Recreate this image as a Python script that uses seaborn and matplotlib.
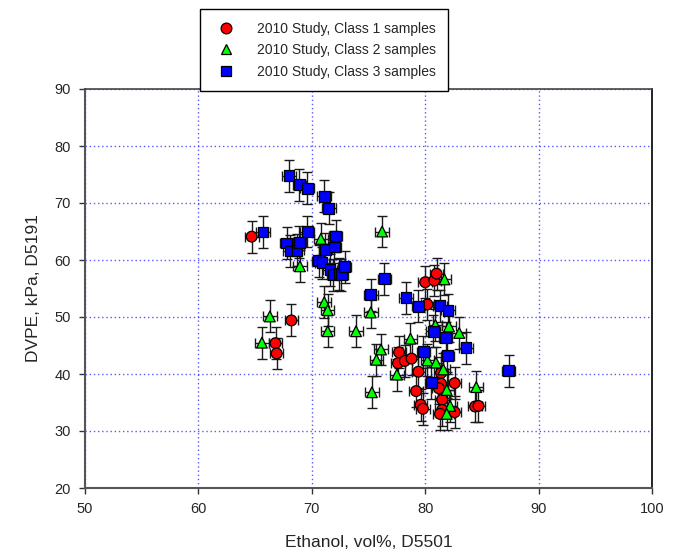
import pandas as pd
import matplotlib
matplotlib.use('Agg')
import matplotlib.pyplot as plt
import seaborn as sns

# Class 1 samples (red circles)
class1_eth = [64.7, 68.2, 66.8, 66.9, 80.0, 80.8, 81.0, 80.2, 77.7, 77.6, 78.2, 78.8,
              79.4, 81.4, 82.6, 79.2, 79.6, 79.8, 81.5, 81.5, 82.6, 81.3, 84.4, 84.7,
              81.2, 81.4]
class1_dvpe = [64.1, 49.4, 45.4, 43.6, 56.1, 56.4, 57.6, 52.2, 43.8, 41.9, 42.3, 42.7,
               40.4, 38.3, 38.4, 37.0, 34.6, 33.9, 35.5, 33.7, 33.3, 33.0, 34.3, 34.4,
               37.5, 40.2]

# Class 2 samples (green triangles)
class2_eth = [65.6, 66.3, 68.95, 70.8, 71.1, 71.4, 71.4, 73.9, 76.2, 75.2, 81.7, 80.9,
              82.1, 83.0, 78.7, 76.1, 75.7, 75.3, 77.5, 80.2, 80.95, 81.6, 81.9, 84.5,
              82.2, 81.9]
class2_dvpe = [45.5, 50.1, 58.9, 63.7, 52.6, 51.2, 47.5, 47.5, 65.0, 50.8, 56.6, 48.6,
               48.35, 47.2, 46.2, 44.3, 42.5, 36.8, 39.9, 42.4, 42.0, 40.8, 37.2, 37.7,
               34.4, 33.0]

# Class 3 samples (blue squares)
class3_eth = [65.7, 68.0, 68.9, 69.6, 67.8, 68.1, 68.7, 68.9, 69.6, 71.1, 71.5, 70.6,
              70.9, 71.2, 72.0, 72.1, 71.6, 71.9, 72.4, 72.6, 72.9, 76.4, 75.2, 78.3,
              79.4, 81.3, 82.0, 80.7, 81.8, 83.6, 79.85, 81.95, 80.55, 87.35]
class3_dvpe = [64.9, 74.8, 73.2, 72.6, 63.0, 61.6, 61.7, 63.1, 65.0, 71.2, 69.1, 59.9,
               59.5, 61.9, 62.3, 64.2, 58.3, 57.4, 57.6, 57.4, 58.8, 56.7, 53.9, 53.4,
               51.9, 52.0, 51.2, 47.5, 46.4, 44.6, 43.9, 43.2, 38.5, 40.6]

labels = ['2010 Study, Class 1 samples', '2010 Study, Class 2 samples',
          '2010 Study, Class 3 samples']

# error bar half-widths
eth_err = 0.6
dvpe_err = 2.8

frames = []
for lab, xs, ys in zip(labels, [class1_eth, class2_eth, class3_eth],
                       [class1_dvpe, class2_dvpe, class3_dvpe]):
    frames.append(pd.DataFrame({'Ethanol': xs, 'DVPE': ys, 'Sample': lab}))
data = pd.concat(frames, ignore_index=True)

sns.set_style('white')
plt.rcParams['font.family'] = ['Liberation Sans', 'DejaVu Sans']

fig = plt.figure(figsize=(6.76, 5.53), dpi=100)
ax = fig.add_axes([85 / 676, 1 - 488 / 553, (652 - 85) / 676, (488 - 89) / 553])

# error bars under the markers
ax.errorbar(data['Ethanol'], data['DVPE'], xerr=eth_err, yerr=dvpe_err, fmt='none',
            ecolor='#1a1a1a', elinewidth=1.0, capsize=3.5, capthick=1.0, zorder=2)

palette = {labels[0]: '#ff0000', labels[1]: '#00ff00', labels[2]: '#0000ff'}
markers = {labels[0]: 'o', labels[1]: '^', labels[2]: 's'}
sns.scatterplot(data=data, x='Ethanol', y='DVPE', hue='Sample', style='Sample',
                palette=palette, markers=markers, s=60, edgecolor='black',
                linewidth=0.9, ax=ax, zorder=3)

ax.set_xlim(50, 100)
ax.set_ylim(20, 90)
ax.set_xticks(range(50, 101, 10))
ax.set_yticks(range(20, 91, 10))
ax.grid(True, color='#2222ff', linestyle=(0, (1, 2)), linewidth=1.0, alpha=0.75)
ax.set_axisbelow(True)

ax.tick_params(axis='both', direction='out', length=4, width=1, color='#333333',
               labelsize=10.5, pad=6, bottom=True, left=True)
for side in ['left', 'bottom']:
    ax.spines[side].set_color('#555555')
    ax.spines[side].set_linewidth(1.5)
ax.spines['top'].set_color('#444444')
ax.spines['top'].set_linewidth(1.2)
ax.spines['right'].set_color('black')
ax.spines['right'].set_linewidth(1.2)

ax.set_xlabel('Ethanol, vol%, D5501', fontsize=12.5, labelpad=14)
ax.set_ylabel('DVPE, kPa, D5191', fontsize=12.5, labelpad=10)

sns.move_legend(ax, 'upper left', bbox_to_anchor=(200 / 676, 1 - 9 / 553),
                bbox_transform=fig.transFigure, title=None, frameon=True,
                fancybox=False, edgecolor='black', framealpha=1, fontsize=10,
                borderpad=0.9, labelspacing=0.55, handletextpad=1.2,
                borderaxespad=0)
ax.get_legend().get_frame().set_linewidth(1.0)

plt.savefig('out.png', dpi=100)
